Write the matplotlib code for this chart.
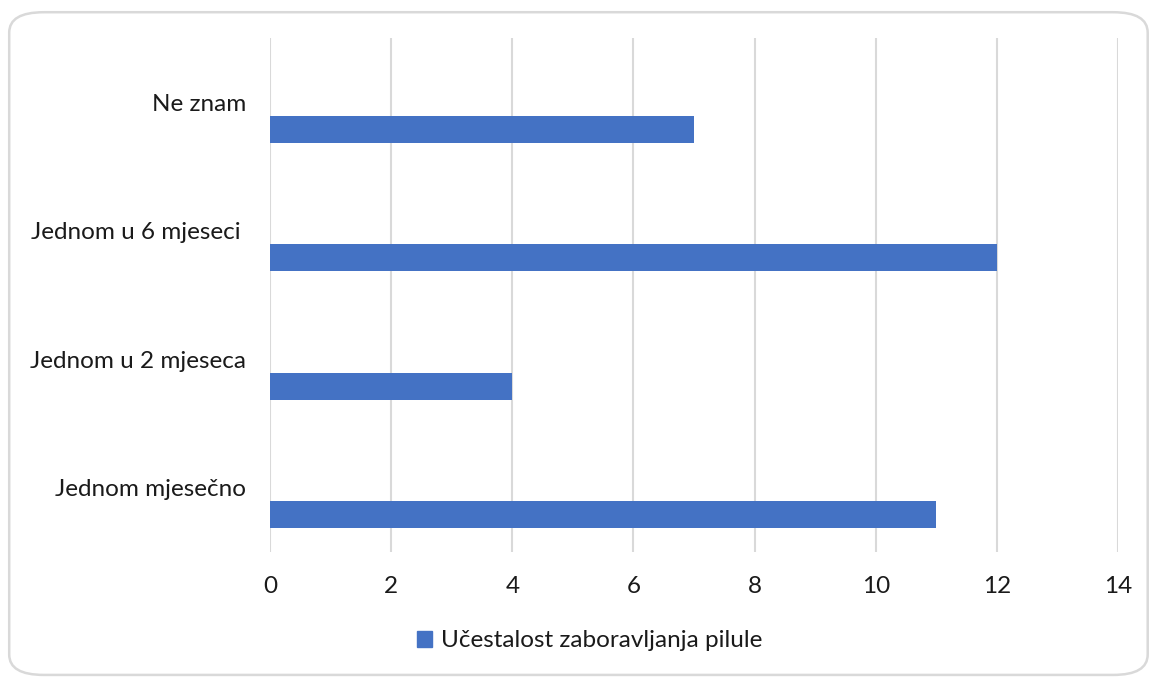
import matplotlib.pyplot as plt
from matplotlib.patches import FancyBboxPatch, Patch

categories = ['Jednom mjesečno', 'Jednom u 2 mjeseca', 'Jednom u 6 mjeseci ', 'Ne znam']
values = [11, 4, 12, 7]
series_name = 'Učestalost zaboravljanja pilule'

plt.rcParams['font.family'] = ['Lato', 'DejaVu Sans']

fig = plt.figure(figsize=(11.5, 6.79), dpi=100)

# rounded chart border
border = FancyBboxPatch((0.008, 0.006), 0.990, 0.976,
                        boxstyle='round,pad=0,rounding_size=0.03',
                        transform=fig.transFigure, facecolor='white',
                        edgecolor='#d9d9d9', linewidth=1.8, zorder=-1)
fig.patches.append(border)

ax = fig.add_axes([0.2348, 0.187, 0.7374, 0.757])
ax.set_facecolor('none')

pos = list(range(len(categories)))
ax.barh([p - 0.21 for p in pos], values, height=0.21, color='#4472C4', zorder=3)

ax.set_xlim(0, 14)
ax.set_ylim(-0.5, 3.5)
ax.set_xticks(range(0, 15, 2))
ax.set_yticks(pos)
ax.set_yticklabels(categories)
ax.tick_params(length=0, labelsize=17.5, colors='#1a1a1a')
ax.tick_params(axis='x', pad=17)
ax.tick_params(axis='y', pad=17)
ax.grid(axis='x', color='#d9d9d9', linewidth=1.5, zorder=0)
for s in ax.spines.values():
    s.set_visible(False)

fig.legend(handles=[Patch(color='#4472C4', label=series_name)],
           loc='center', bbox_to_anchor=(0.513, 0.056), frameon=False,
           fontsize=17.5, handlelength=0.6, handleheight=0.6,
           handletextpad=0.4, labelcolor='#1a1a1a')

fig.savefig('out.png', dpi=100)
